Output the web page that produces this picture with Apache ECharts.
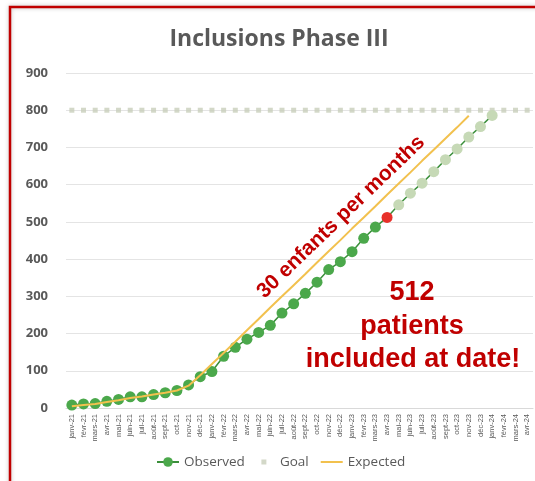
<!DOCTYPE html>
<html>
<head>
<meta charset="utf-8">
<script src="https://cdn.jsdelivr.net/npm/echarts@6/dist/echarts.min.js"></script>
<style>
html,body{margin:0;padding:0;background:#fff;}
#c{width:535px;height:481px;}
</style>
</head>
<body>
<div id="c"></div>
<script>
var categories = ['janv-21','févr-21','mars-21','avr-21','mai-21','juin-21','juil-21','août-21','sept-21','oct-21','nov-21','déc-21',
  'janv-22','févr-22','mars-22','avr-22','mai-22','juin-22','juil-22','août-22','sept-22','oct-22','nov-22','déc-22',
  'janv-23','févr-23','mars-23','avr-23','mai-23','juin-23','juil-23','août-23','sept-23','oct-23','nov-23','déc-23',
  'janv-24','févr-24','mars-24','avr-24'];
var observed = [8,11,12,18,23,30,30,36,41,47,62,84,98,139,163,185,203,222,255,280,308,338,372,393,420,456,486,512];
var projected = [546,577,604,635,667,696,728,756,786];
var goal = [800,800,800,800,800,800,800,800,800,800,800,800,800,800,800,800,800,800,800,800,
            800,800,800,800,800,800,800,800,800,800,800,800,800,800,800,800,800,800,800,800];
var expected = [5,8,11,16,21,27,31,36,41,47,60,88,118,148,178,209,239,270,300,330,360,391,421,451,482,512,542,573,603,633,664,694,724,754,785];
var yTicks = [0,100,200,300,400,500,600,700,800,900];
var annotSlope = '30 enfants per months';
var annotLines = ['512','patients','included at date!'];

var obsData = [];
observed.forEach(function(v,i){
  var last = i === observed.length-1;
  obsData.push(last ? {value:v, itemStyle:{color:'#e8302a'}} : v);
});
projected.forEach(function(v){ obsData.push({value:v, itemStyle:{color:'#c6d9b6'}}); });

var chart = echarts.init(document.getElementById('c'));
chart.setOption({
  animation:false,
  backgroundColor:'#fff',
  title:{text:'Inclusions Phase III', left:274, textAlign:'center', top:23,
    textStyle:{fontFamily:'Open Sans', fontWeight:'bold', fontSize:23, color:'#595959'}},
  grid:{left:66, right:2, top:73, bottom:73, containLabel:false},
  legend:{bottom:7, left:151, itemGap:12, itemWidth:22, itemHeight:12,
    textStyle:{fontFamily:'Open Sans', fontSize:13.5, color:'#595959'},
    data:[{name:'Observed'},
          {name:'Goal', icon:'path://M0,0M14,12M4.5,3.5h5v5h-5z', itemStyle:{color:'#c8ceba'}},
          {name:'Expected', icon:'path://M0,5h22v2h-22z'}]},
  xAxis:{type:'category', data:categories, boundaryGap:true,
    axisLine:{lineStyle:{color:'#d9d9d9'}}, axisTick:{show:false},
    axisLabel:{interval:0, rotate:90, fontSize:7.5, color:'#595959', fontFamily:'Liberation Sans', margin:6}},
  yAxis:{type:'value', min:yTicks[0], max:yTicks[yTicks.length-1], interval:100,
    axisLine:{show:false}, axisTick:{show:false},
    splitLine:{lineStyle:{color:'#e4e4e4', width:1}},
    axisLabel:{fontFamily:'Open Sans', fontWeight:'bold', fontSize:13, color:'#595959', margin:18}},
  series:[
    {name:'Goal', type:'scatter', data:goal, symbol:'rect', symbolSize:5, z:1,
      itemStyle:{color:'#c8ceba'}},
    {name:'Observed', type:'line', data:obsData, symbol:'circle', symbolSize:11, z:2,
      itemStyle:{color:'#4ba84b'}, lineStyle:{color:'#3b8f3b', width:1.5}},
    {name:'Expected', type:'line', data:expected, symbol:'none', smooth:false, z:3,
      itemStyle:{color:'#f2c14e'}, lineStyle:{color:'#f2c14e', width:2}}
  ],
  graphic:[
    {type:'rect', shape:{x:10, y:7, width:560, height:500}, z:100,
      style:{fill:null, stroke:'#c00000', lineWidth:2.5, shadowBlur:4, shadowColor:'rgba(0,0,0,0.25)'}},
    {type:'text', x:341, y:217, rotation:44*Math.PI/180, z:101,
      style:{text:annotSlope, fontFamily:'Liberation Sans', fontWeight:'bold', fontSize:21, fill:'#c00000',
        textAlign:'center', textVerticalAlign:'middle'}},
    {type:'text', x:412, y:293, z:101,
      style:{text:annotLines[0], fontFamily:'Liberation Sans', fontWeight:'bold', fontSize:27, fill:'#c00000',
        textAlign:'center', textVerticalAlign:'middle'}},
    {type:'text', x:412, y:327, z:101,
      style:{text:annotLines[1], fontFamily:'Liberation Sans', fontWeight:'bold', fontSize:27, fill:'#c00000',
        textAlign:'center', textVerticalAlign:'middle'}},
    {type:'text', x:413, y:360, z:101,
      style:{text:annotLines[2], fontFamily:'Liberation Sans', fontWeight:'bold', fontSize:27, fill:'#c00000',
        textAlign:'center', textVerticalAlign:'middle'}}
  ]
});
</script>
</body>
</html>
